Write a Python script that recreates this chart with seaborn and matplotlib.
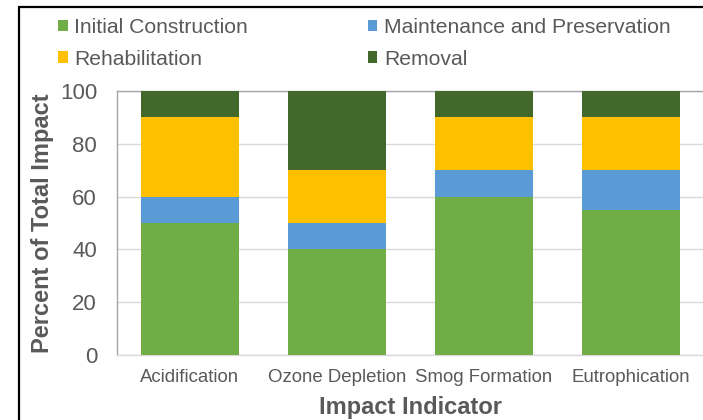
import matplotlib
matplotlib.use("Agg")
import matplotlib.pyplot as plt
import seaborn as sns
import pandas as pd
import numpy as np
from matplotlib.lines import Line2D
from matplotlib.patches import Patch

categories = ["Acidification", "Ozone Depletion", "Smog Formation", "Eutrophication"]
initial_construction = [50, 40, 60, 55]
maintenance = [10, 10, 10, 15]
rehabilitation = [30, 20, 20, 20]
removal = [10, 30, 10, 10]
series_names = ["Initial Construction", "Maintenance and Preservation", "Rehabilitation", "Removal"]
colors = ["#70AD47", "#5B9BD5", "#FFC000", "#43682B"]
yticks = [0, 20, 40, 60, 80, 100]

sns.set_theme(style="white")
plt.rcParams["font.family"] = ["Liberation Sans", "DejaVu Sans"]

W, H = 703, 420
fig = plt.figure(figsize=(W / 100, H / 100), dpi=100)
fig.patch.set_edgecolor("none")
fig.patch.set_linewidth(0)
ax = fig.add_axes([116.5 / W, 1 - 355 / H, (704.5 - 116.5) / W, (355 - 91) / H])

series = [initial_construction, maintenance, rehabilitation, removal]
cum = np.cumsum(np.array(series, dtype=float), axis=0)
# draw from top layer to bottom so lower layers overlay
for i in range(len(series) - 1, -1, -1):
    df = pd.DataFrame({"cat": categories, "val": cum[i]})
    sns.barplot(data=df, x="cat", y="val", order=categories, color=colors[i],
                saturation=1, width=0.667, ax=ax, zorder=3, linewidth=0)

ax.set_xlim(-0.5, 3.5)
ax.set_ylim(0, 100)
ax.set_yticks(yticks)
ax.set_yticklabels([str(v) for v in yticks])
ax.yaxis.grid(True, color="#D9D9D9", linewidth=1, zorder=0)
ax.xaxis.grid(False)
ax.set_axisbelow(True)
ax.spines["right"].set_visible(False)
ax.spines["left"].set_color("#A6A6A6")
ax.spines["top"].set_color("#A6A6A6")
ax.spines["bottom"].set_color("#D9D9D9")
for s in ["left", "top", "bottom"]:
    ax.spines[s].set_linewidth(1)
ax.tick_params(axis="y", labelsize=16, labelcolor="#595959", length=0, pad=14)
ax.tick_params(axis="x", labelsize=13.4, labelcolor="#595959", length=0, pad=10)
ax.set_xlabel("Impact Indicator", fontsize=17, fontweight="bold", color="#595959", labelpad=7)
ax.set_ylabel("Percent of Total Impact", fontsize=17, fontweight="bold", color="#595959", labelpad=4)

handles = [Patch(facecolor=c, edgecolor="none") for c in colors]
order = [0, 2, 1, 3]
fig.legend([handles[i] for i in order], [series_names[i] for i in order],
           ncol=2, loc="upper left", bbox_to_anchor=(58 / W, 1 - 18 / H),
           frameon=False, fontsize=15.2, handlelength=0.45, handleheight=0.45,
           handletextpad=0.3, columnspacing=5.7, labelspacing=0.6, borderpad=0,
           labelcolor="#595959", borderaxespad=0)

# outer frame (top and left edges visible in the reference)
x0, y0 = 18.5 / W, 1 - 7 / H
fig.add_artist(Line2D([x0, x0, 1.5], [-0.5, y0, y0], transform=fig.transFigure,
                      color="black", linewidth=1.6, solid_joinstyle="miter", zorder=60))

fig.savefig("out.png", dpi=100)
